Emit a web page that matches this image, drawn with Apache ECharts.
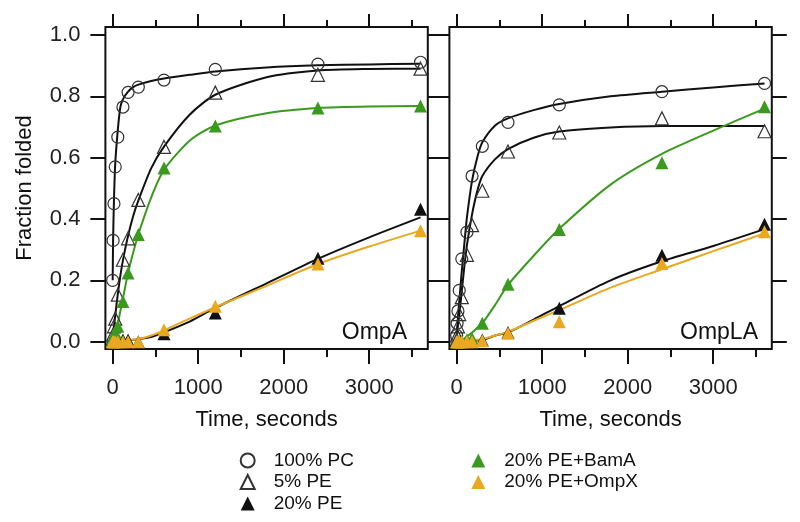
<!DOCTYPE html>
<html>
<head>
<meta charset="utf-8">
<script src="https://cdn.jsdelivr.net/npm/echarts@6/dist/echarts.min.js"></script>
<style>
  html, body { margin: 0; padding: 0; background: #fff; }
  #chart { width: 800px; height: 522px; }
</style>
</head>
<body>
<div id="chart"></div>
<script>
// sampling times (s) of the measured points
const times = [0, 5, 15, 30, 60, 120, 180, 300, 600, 1200, 2400, 3600];

// OmpA panel, measured points
const pcA   = [0.20, 0.33, 0.45, 0.57, 0.667, 0.765, 0.813, 0.83, 0.853, 0.888, 0.905, 0.911];
const pe5A  = [0.01, 0.023, 0.05, 0.075, 0.153, 0.267, 0.337, 0.462, 0.635, 0.812, 0.87, 0.89];
const pe20A = [0.0, 0.0, 0.005, 0.005, 0.0, 0.005, 0.005, 0.0, 0.026, 0.093, 0.272, 0.432];
const bamA  = [0.0, 0.01, 0.02, 0.03, 0.05, 0.131, 0.224, 0.349, 0.566, 0.703, 0.762, 0.768];
const ompxA = [0.0, 0.0, 0.0, 0.0, 0.0, 0.0, 0.0, 0.0, 0.039, 0.115, 0.253, 0.362];

// OmpLA panel, measured points
const pcLA   = [0.02, 0.06, 0.10, 0.167, 0.27, 0.357, 0.54, 0.637, 0.715, 0.772, 0.815, 0.842];
const pe5LA  = [0.005, 0.02, 0.05, 0.09, 0.145, 0.283, 0.38, 0.492, 0.62, 0.682, 0.728, 0.686];
const pe20LA = [0.0, 0.0, 0.0, 0.0, 0.0, 0.0, 0.0, 0.005, 0.03, 0.109, 0.282, 0.383];
const bamLA  = [0.0, 0.0, 0.0, 0.0, 0.0, 0.005, 0.01, 0.06, 0.187, 0.366, 0.583, 0.766];
const ompxLA = [0.0, 0.0, 0.0, 0.0, 0.0, 0.0, 0.0, 0.003, 0.027, 0.065, 0.255, 0.358];

// fitted curves at these times
const fitTimes = [0, 5, 15, 30, 60, 90, 120, 180, 240, 300, 450, 600, 900, 1200, 1800, 2400, 3000, 3600];
const fitPcA   = [0.20, 0.33, 0.46, 0.58, 0.69, 0.765, 0.79, 0.815, 0.83, 0.838, 0.85, 0.858, 0.870, 0.881, 0.894, 0.901, 0.904, 0.906];
const fitPe5A  = [0.0, 0.02, 0.05, 0.085, 0.155, 0.215, 0.265, 0.345, 0.41, 0.46, 0.565, 0.636, 0.74, 0.805, 0.862, 0.884, 0.889, 0.89];
const fitBamA  = [0.0, 0.005, 0.015, 0.03, 0.06, 0.10, 0.14, 0.225, 0.29, 0.35, 0.47, 0.56, 0.655, 0.705, 0.745, 0.762, 0.767, 0.768];
const fitPe20A = [0.002, 0.002, 0.002, 0.002, 0.002, 0.003, 0.003, 0.004, 0.006, 0.008, 0.015, 0.03, 0.065, 0.11, 0.19, 0.27, 0.34, 0.405];
const fitOmpxA = [0.003, 0.003, 0.003, 0.003, 0.003, 0.004, 0.004, 0.005, 0.006, 0.008, 0.02, 0.037, 0.075, 0.112, 0.182, 0.253, 0.31, 0.362];

const fitPcLA   = [0.027, 0.04, 0.08, 0.13, 0.23, 0.32, 0.405, 0.525, 0.60, 0.65, 0.705, 0.728, 0.755, 0.775, 0.80, 0.815, 0.829, 0.842];
const fitPe5LA  = [0.01, 0.03, 0.055, 0.085, 0.165, 0.245, 0.315, 0.415, 0.49, 0.54, 0.595, 0.628, 0.665, 0.685, 0.698, 0.703, 0.703, 0.703];
const fitBamLA  = [0.0, 0.0, 0.0, 0.0, 0.005, 0.01, 0.017, 0.03, 0.045, 0.06, 0.12, 0.185, 0.28, 0.368, 0.512, 0.612, 0.688, 0.76];
const fitPe20LA = [0.0, 0.0, 0.0, 0.0, 0.001, 0.001, 0.002, 0.003, 0.004, 0.005, 0.02, 0.03, 0.072, 0.116, 0.2, 0.262, 0.312, 0.367];
const fitOmpxLA = [0.003, 0.003, 0.003, 0.003, 0.003, 0.004, 0.004, 0.005, 0.006, 0.008, 0.02, 0.032, 0.068, 0.103, 0.176, 0.236, 0.295, 0.353];

// tick labels
const xMajor = [0, 1000, 2000, 3000];
const xMinor = [500, 1500, 2500, 3500];
const yMajor = [0, 0.2, 0.4, 0.6, 0.8, 1.0];

const FONT = 'Liberation Sans, Arial, Helvetica, sans-serif';
const GREEN = '#3a9a1e';
const ORANGE = '#eaa821';

function pts(vals) { return times.map((t, i) => [t, vals[i]]); }
function fit(vals) { return fitTimes.map((t, i) => [t, vals[i]]); }

function xAx(grid, pos, ticks, len, labels) {
    return {
        type: 'value', gridIndex: grid, position: pos, min: -85, max: 3685,
        axisLine: { show: false, onZero: false }, splitLine: { show: false },
        axisTick: { show: true, inside: false, length: len, customValues: ticks,
                    lineStyle: { color: '#111', width: 2 } },
        axisLabel: labels ? { show: true, customValues: xMajor, margin: 28,
                              formatter: v => String(v),
                              color: '#222', fontSize: 22, fontFamily: FONT } : { show: false },
        name: labels ? 'Time, seconds' : '', nameLocation: 'middle', nameGap: 60,
        nameTextStyle: { color: '#111', fontSize: 22, fontFamily: FONT }
    };
}
function yAx(grid, pos, len, labels) {
    return {
        type: 'value', gridIndex: grid, position: pos, min: -0.024, max: 1.026,
        axisLine: { show: false, onZero: false }, splitLine: { show: false },
        axisTick: { show: true, inside: false, length: len, customValues: yMajor,
                    lineStyle: { color: '#111', width: 2 } },
        axisLabel: labels ? { show: true, customValues: yMajor, margin: 25,
                              formatter: v => v.toFixed(1),
                              color: '#222', fontSize: 22, fontFamily: FONT } : { show: false },
        name: labels ? 'Fraction folded' : '', nameLocation: 'middle', nameGap: 69,
        nameTextStyle: { color: '#111', fontSize: 22, fontFamily: FONT }
    };
}

const openStyle = { color: 'rgba(255,255,255,0)', borderColor: '#333', borderWidth: 1.2, opacity: 1 };

function scatter(name, vals, xi, yi, symbol, style, size) {
    return { name: name, type: 'scatter', xAxisIndex: xi, yAxisIndex: yi, data: pts(vals),
             symbol: symbol, symbolSize: size, itemStyle: style, z: 4, clip: false };
}
function curve(vals, xi, yi, color) {
    return { name: 'fit', type: 'line', xAxisIndex: xi, yAxisIndex: yi, data: fit(vals),
             showSymbol: false, smooth: 0.25,
             lineStyle: { color: color, width: 2 }, z: 3 };
}

function panel(xi, yi, d) {
    return [
        curve(d.fPc, xi, yi, '#111'),
        curve(d.fPe5, xi, yi, '#111'),
        curve(d.fPe20, xi, yi, '#111'),
        curve(d.fBam, xi, yi, GREEN),
        curve(d.fOmpx, xi, yi, ORANGE),
        scatter('100% PC', d.pc, xi, yi, 'circle', openStyle, 12),
        scatter('5% PE', d.pe5, xi, yi, 'triangle', openStyle, 13),
        scatter('20% PE', d.pe20, xi, yi, 'triangle', { color: '#111', opacity: 1 }, 13),
        scatter('20% PE+BamA', d.bam, xi, yi, 'triangle', { color: GREEN, opacity: 1 }, 13),
        scatter('20% PE+OmpX', d.ompx, xi, yi, 'triangle', { color: ORANGE, opacity: 1 }, 13)
    ];
}

function legend(names, icons, left) {
    return {
        data: names.map((n, i) => ({ name: n, icon: icons[i] })),
        orient: 'vertical', left: left, top: 451, padding: 0,
        itemWidth: 14, itemHeight: 14, itemGap: 2.5, height: 80,
        textStyle: { color: '#111', fontSize: 19, fontFamily: FONT, lineHeight: 19,
                     padding: [0, 0, 0, 14] }
    };
}

const chart = echarts.init(document.getElementById('chart'));
const option = {
    animation: false,
    backgroundColor: '#fff',
    grid: [
        { left: 105.4, top: 27, width: 322.4, height: 322, show: true, borderColor: '#111', borderWidth: 2, containLabel: false },
        { left: 449.4, top: 27, width: 322.4, height: 322, show: true, borderColor: '#111', borderWidth: 2, containLabel: false }
    ],
    xAxis: [
        xAx(0, 'bottom', xMajor, 15, true),
        xAx(0, 'bottom', xMinor, 8, false),
        xAx(0, 'top', xMajor, 13, false),
        xAx(0, 'top', xMinor, 7, false),
        xAx(1, 'bottom', xMajor, 15, true),
        xAx(1, 'bottom', xMinor, 8, false),
        xAx(1, 'top', xMajor, 13, false),
        xAx(1, 'top', xMinor, 7, false)
    ],
    yAxis: [
        yAx(0, 'left', 15, true),
        yAx(0, 'right', 11, false),
        yAx(1, 'left', 15, false),
        yAx(1, 'right', 15, false)
    ],
    legend: [
        legend(['100% PC', '5% PE', '20% PE'], ['circle', 'triangle', 'triangle'], 239.7),
        legend(['20% PE+BamA', '20% PE+OmpX'], ['triangle', 'triangle'], 471.3)
    ],
    graphic: [
        { type: 'text', right: 800 - 407, top: 321,
          style: { text: 'OmpA', fill: '#111', fontSize: 23, fontFamily: FONT } },
        { type: 'text', right: 800 - 758, top: 321,
          style: { text: 'OmpLA', fill: '#111', fontSize: 23, fontFamily: FONT } }
    ],
    series: [].concat(
        panel(0, 0, { pc: pcA, pe5: pe5A, pe20: pe20A, bam: bamA, ompx: ompxA,
                      fPc: fitPcA, fPe5: fitPe5A, fPe20: fitPe20A, fBam: fitBamA, fOmpx: fitOmpxA }),
        panel(4, 2, { pc: pcLA, pe5: pe5LA, pe20: pe20LA, bam: bamLA, ompx: ompxLA,
                      fPc: fitPcLA, fPe5: fitPe5LA, fPe20: fitPe20LA, fBam: fitBamLA, fOmpx: fitOmpxLA })
    )
};
chart.setOption(option);
window.addEventListener('resize', () => { chart.resize(); });
</script>
</body>
</html>
